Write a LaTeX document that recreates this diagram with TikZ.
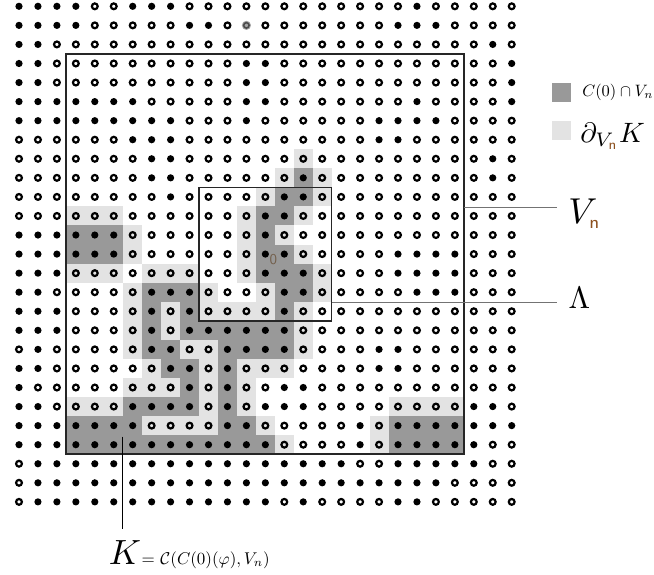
\documentclass[tikz,border=0pt]{standalone}
\usepackage{amsmath,amssymb}
\usepackage{tikz}
\usetikzlibrary{positioning,calc}
\colorlet{darkcell}{black!40}
\colorlet{lightcell}{black!11}
\colorlet{boxline}{black!85}
\colorlet{tagline}{black!55}
\definecolor{subbrown}{RGB}{140,80,30}
\definecolor{zerobrown}{RGB}{115,95,75}
\newcommand{\nsub}{{\color{subbrown}\mathsf{n}}}

\begin{document}
\begin{tikzpicture}[x=18.95pt, y=-19.06pt,
        opendot/.style={draw=black, line width=2.2pt},
        cell/.style={inner sep=0pt, minimum size=19pt},
        tag/.style={anchor=base west, inner sep=0pt}]
    \useasboundingbox (-1.0026,-0.3305) rectangle (33.509,29.785);
    % cluster of the origin inside V_n
    \foreach \r/\cs in {9/{15}, 10/{14,15}, 11/{13,14}, 12/{3,4,5,13}, 13/{3,4,5,13,14},
            14/{13,14,15}, 15/{7,8,9,14,15}, 16/{7,9,14}, 17/{7,9,10,11,12,13,14},
            18/{7,8,11,12,13,14}, 19/{8,9,11}, 20/{9,11}, 21/{6,7,8,9,11},
            22/{3,4,5,6,11,12,20,21,22,23},
            23/{3,4,5,6,7,8,9,10,11,12,13,20,21,22,23}}
        {\foreach \c in \cs {\fill[darkcell] (\c-0.5,\r-0.5) rectangle ++(1,1);}}
    % its boundary
    \foreach \r/\cs in {8/{15}, 9/{14,16}, 10/{13,16}, 11/{3,4,5,12,15}, 12/{6,12,14},
            13/{6,12,15}, 14/{3,4,5,7,8,9,12,16}, 15/{6,10,13,16},
            16/{6,8,10,11,12,13,15}, 17/{6,8,15}, 18/{6,9,10,15}, 19/{7,10,12,13,14},
            20/{6,7,8,10,12}, 21/{3,4,5,10,12,20,21,22,23}, 22/{7,8,9,10,13,19},
            23/{14,19}}
        {\foreach \c in \cs {\fill[lightcell] (\c-0.5,\r-0.5) rectangle ++(1,1);}}
    % lattice: occupied sites, then the empty ones
    \foreach \r/\cs in {0/{0,1,2,3,6,7,8,21}, 1/{0,1,2,3,9,10,20,21,22}, 2/{0,1,25},
            3/{0,1,12,13,26}, 4/{0,1,12,13,26}, 5/{0,1,2,3,4,5,6,12,13,21,26},
            6/{0,1,2,3,4,5,6,7,8,12,19,20,21,22}, 7/{6,7,8,19,20}, 8/{7,8,25},
            9/{7,8,15,25}, 10/{8,14,15}, 11/{13,14}, 12/{0,1,2,3,4,5,13},
            13/{0,1,2,3,4,5,13,14,20,21,22,23}, 14/{0,1,2,13,14,15,20,21,22,23},
            15/{0,1,7,8,9,14,15,21,22,23}, 16/{0,1,2,7,9,14},
            17/{0,1,2,7,9,10,11,12,13,14}, 18/{1,7,8,11,12,13,14,19,20},
            19/{0,1,8,9,11,19,20}, 20/{0,9,11,14,15},
            21/{0,1,6,7,8,9,11,13,14,15,24,25},
            22/{0,1,2,3,4,5,6,11,12,18,20,21,22,23,24,25,26},
            23/{0,1,2,3,4,5,6,7,8,9,10,11,12,13,18,20,21,22,23,24},
            24/{1,2,3,4,5,6,7,8,9,10,11,12,13,14,15,16,17,20,21,22,23,24},
            25/{1,2,3,4,5,6,7,8,9,10,11,12,13,14,15,16,17,18,19,20,21,22},
            26/{1,2,3,4,5,6,7,8,9,10,11,12,13,15,20,21}}
        {\foreach \c in \cs {\fill (\c,\r) circle (3.6pt);
            \expandafter\gdef\csname occ\c-\r\endcsname{}}}
    \expandafter\gdef\csname occ12-1\endcsname{}
    \foreach \i in {0,...,26}
        {\foreach \j in {0,...,26}
            {\ifcsname occ\i-\j\endcsname\else\draw[opendot] (\i,\j) circle (2.9pt);\fi}}
    \fill[black!35] (12,1) circle (4.6pt);
    \draw[black!70, line width=1.6pt] (12,1) circle (2.7pt);
    \node[scale=1.5, font=\sffamily, text=zerobrown, inner sep=0pt] (origin) at (13.42,13.31) {0};
    % boxes
    \draw[boxline, line width=2pt] (2.5,2.5) rectangle (23.5,23.5);
    \draw[boxline, line width=1.6pt] (9.5,9.5) rectangle (16.5,16.5);
    % labels
    \node[tag, scale=3.6] (vnlab) at (28.95,11.37) {$V_{\scriptscriptstyle\nsub}$};
    \node[tag, scale=3.1] (lamlab) at (28.97,15.83) {$\Lambda$};
    \coordinate (vnfoot) at (23.5,10.57);
    \coordinate (lamfoot) at (16.5,15.55);
    \coordinate (vnend) at (28.39,10.57);
    \coordinate (lamend) at (28.39,15.55);
    \draw[tagline, line width=1pt] (vnfoot) -- (vnend);
    \draw[tagline, line width=1pt] (lamfoot) -- (lamend);
    % legend
    \node[cell, fill=darkcell] (legdark) at (28.61,4.5) {};
    \node[cell, fill=lightcell] (leglight) at (28.61,6.52) {};
    \node[anchor=west, inner sep=0pt, scale=1.65] (legdarktxt) at (29.71,4.5) {$C(0)\cap V_n$};
    \node[tag, scale=2.8] (leglighttxt) at (29.6,7.12) {$\partial_{V_{\scriptscriptstyle\nsub}}K$};
    % K
    \coordinate (ktop) at (5.47,22.58);
    \coordinate (kfoot) at (5.47,27.4);
    \draw[black, line width=0.8pt] (ktop) -- (kfoot);
    \node[tag, scale=3.5] (klab) at (4.70,29.26) {$K$};
    \node[tag, scale=1.7] (kdef) at (6.45,29.26) {\textsf{=} $\mathcal{C}(C(0)(\varphi),V_n)$};
\end{tikzpicture}
\end{document}
